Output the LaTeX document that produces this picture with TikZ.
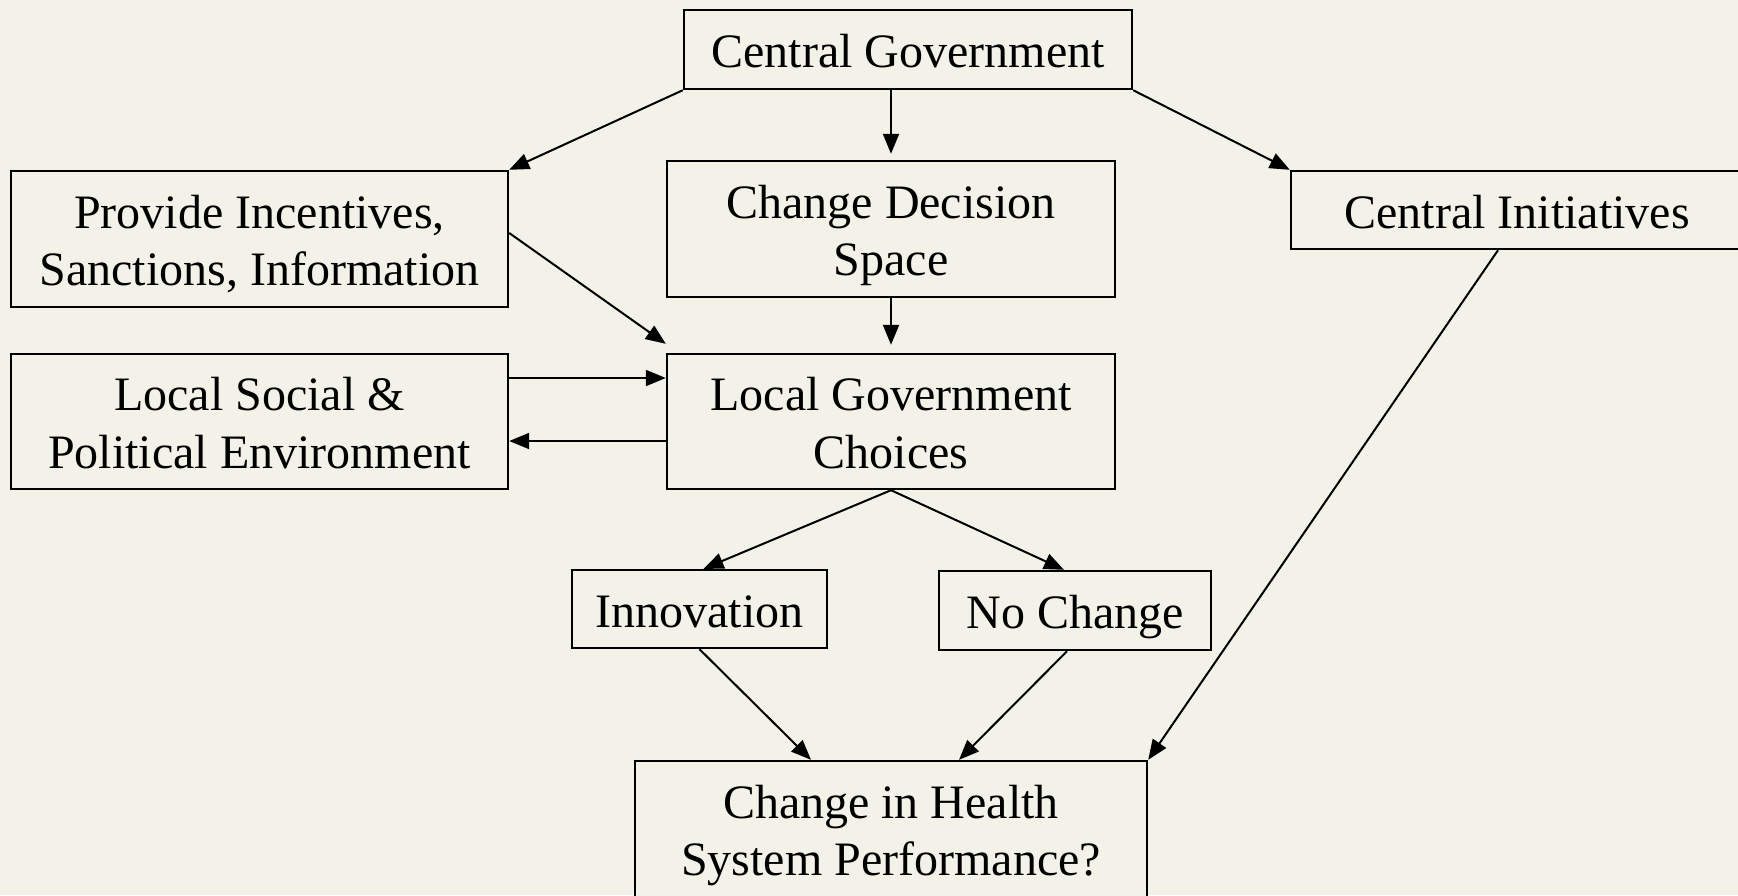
\documentclass[tikz,border=0pt]{standalone}
\usepackage{fontspec}
\setmainfont{Liberation Serif}
\usetikzlibrary{arrows.meta,calc}
\definecolor{paper}{RGB}{243,242,232}
\tikzstyle{Box} = [rectangle, draw, line width=1.2pt, fill=paper,
    align=center, inner sep=0pt, font=\fontsize{24}{28.8}\selectfont,
    text height=24pt, text depth=6pt]
\tikzstyle{TwoLine} = [text height=52.8pt]
\tikzstyle{arrow} = [line width=1pt,-{Triangle[length=10pt,width=8pt]}]

\begin{document}
\begin{tikzpicture}[x=0.5pt,y=-0.5pt]
        \fill [paper] (0,0) rectangle (1738,895);
        \useasboundingbox (0,0) rectangle (1738,895);
        \node [Box, minimum width=224pt, minimum height=39.5pt] (CentralGov) at (908,49.5) {Central Government};
        \node [Box, TwoLine, minimum width=248.5pt, minimum height=68pt] (Incentives) at (259.5,239) {Provide Incentives,\\Sanctions, Information};
        \node [Box, TwoLine, minimum width=224pt, minimum height=68pt] (DecSpace) at (891,229) {Change Decision\\Space};
        \node [Box, minimum width=226pt, minimum height=39pt] (CentralInit) at (1517,210) {Central Initiatives};
        \node [Box, TwoLine, minimum width=248.5pt, minimum height=67.5pt] (LocalEnv) at (259.5,421.5) {Local Social \&\\Political Environment};
        \node [Box, TwoLine, minimum width=224pt, minimum height=67.5pt] (LocalGov) at (891,421.5) {Local Government\\Choices};
        \node [Box, minimum width=127.5pt, minimum height=39pt] (Innov) at (699.5,609) {Innovation};
        \node [Box, minimum width=136pt, minimum height=39.5pt] (NoChange) at (1075,610.5) {No Change};
        \node [Box, TwoLine, minimum width=256pt, minimum height=68pt] (HealthPerf) at (891,829) {Change in Health\\System Performance?};
        % from the centre
        \draw [arrow, shorten >=3pt] (CentralGov.south -| DecSpace.north) -- (DecSpace.north);
        \draw [arrow] (CentralGov.south west) -- (Incentives.north east);
        \draw [arrow] (CentralGov.south east) -- (CentralInit.north west);
        % into local choices
        \draw [arrow] ($(Incentives.east)+(0,-6)$) -- ($(LocalGov.north west)+(0,-9)$);
        \draw [arrow, shorten >=4pt] (DecSpace.south) -- (LocalGov.north);
        \draw [arrow] (LocalEnv.east |- 0,378) -- (LocalGov.west |- 0,378);
        \draw [arrow] (LocalGov.west |- 0,441) -- (LocalEnv.east |- 0,441);
        % outcomes
        \draw [arrow] (LocalGov.south) -- ($(Innov.north)+(4,0)$);
        \draw [arrow] (LocalGov.south) -- ($(NoChange.north)+(-11,0)$);
        \draw [arrow] (Innov.south) -- ($(HealthPerf.north)+(-80,0)$);
        \draw [arrow] ($(NoChange.south)+(-8,0)$) -- ($(HealthPerf.north)+(68,0)$);
        \draw [arrow] ($(CentralInit.south)+(-19,0)$) -- (HealthPerf.north east);
\end{tikzpicture}
\end{document}
